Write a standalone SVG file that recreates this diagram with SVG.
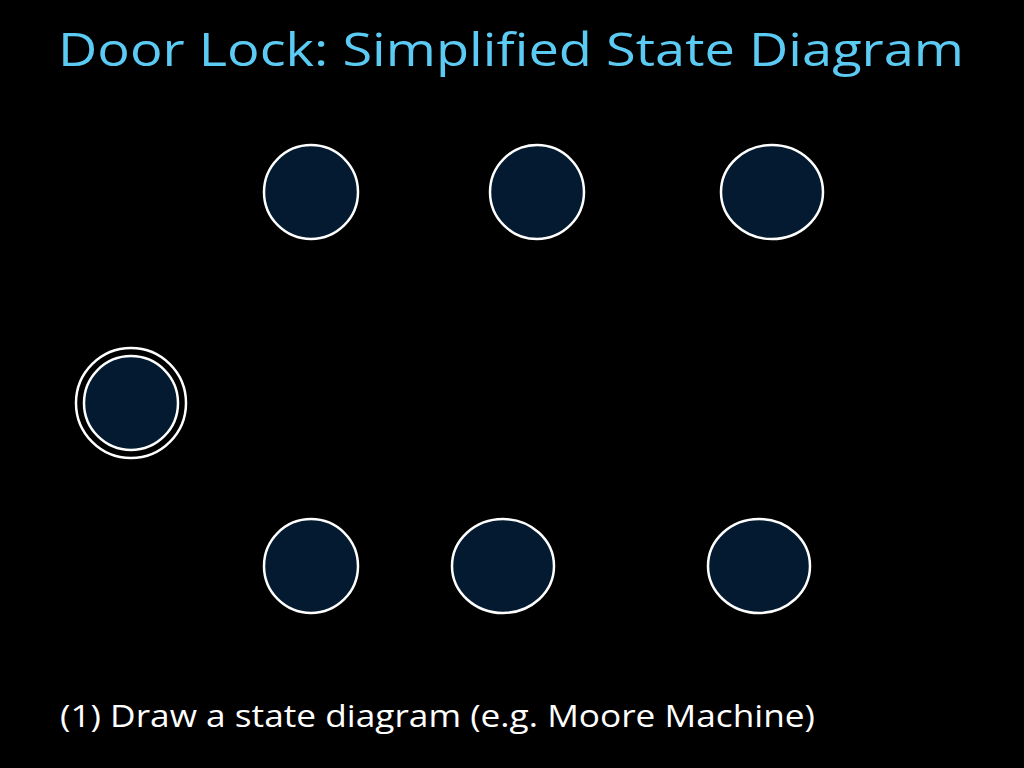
<svg xmlns="http://www.w3.org/2000/svg" width="1024" height="768" viewBox="0 0 1024 768">
<style>
.st{fill:#041a30;stroke:#ffffff;stroke-width:2.5}
.t{font-family:"Open Sans","Liberation Sans",sans-serif}
</style>
<rect width="1024" height="768" fill="#000"/>
<text class="t" x="58" y="66" font-size="45" fill="#5ccbf4" textLength="906" lengthAdjust="spacingAndGlyphs">Door Lock: Simplified State Diagram</text>
<g id="s1"><ellipse class="st" cx="311" cy="192" rx="47" ry="47"/></g>
<g id="s2"><ellipse class="st" cx="537" cy="192" rx="47" ry="47"/></g>
<g id="s3"><ellipse class="st" cx="772" cy="192" rx="51" ry="47"/></g>
<g id="s0"><circle cx="131" cy="403" r="55" fill="none" stroke="#fff" stroke-width="2.5"/><ellipse class="st" cx="131" cy="403" rx="47" ry="47"/></g>
<g id="s4"><ellipse class="st" cx="311" cy="566" rx="47" ry="47"/></g>
<g id="s5"><ellipse class="st" cx="503" cy="566" rx="51" ry="47"/></g>
<g id="s6"><ellipse class="st" cx="759" cy="566" rx="51" ry="47"/></g>
<g id="connectors"></g>
<text class="t" x="60" y="727" font-size="31" fill="#fff" textLength="755" lengthAdjust="spacingAndGlyphs">(1) Draw a state diagram (e.g. Moore Machine)</text>
</svg>
